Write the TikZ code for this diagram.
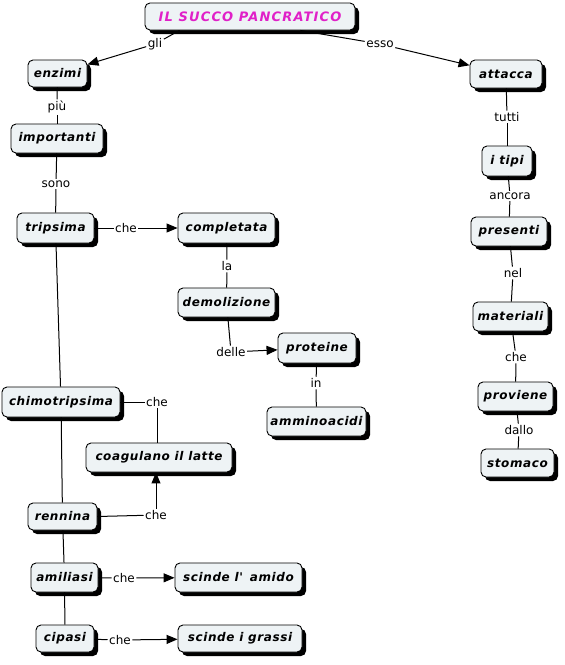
\documentclass[tikz,border=0pt]{standalone}
\usepackage{fontspec}
\setsansfont{DejaVu Sans}
\newfontfamily\nodefont[LetterSpace=5]{DejaVu Sans Bold Oblique}
\newfontfamily\titlefont[LetterSpace=9]{DejaVu Sans Bold Oblique}
\newfontfamily\lblfont{DejaVu Sans}
\usetikzlibrary{arrows.meta,shadows}
\definecolor{boxfill}{HTML}{EEF3F5}
\definecolor{titlemag}{HTML}{E020C8}
\tikzset{
  concept/.style={draw=black, line width=0.9pt, fill=boxfill, rounded corners=5pt,
    drop shadow={shadow xshift=4pt, shadow yshift=-4pt, fill=black, opacity=1},
    font=\nodefont\fontsize{12}{14}\selectfont, inner sep=0pt, align=center},
  lbl/.style={font=\lblfont\fontsize{12}{14}\selectfont, inner sep=1.5pt, text=black},
  conn/.style={line width=1pt, draw=black},
  arr/.style={conn, -{Triangle[length=11pt,width=9pt]}},
}
\begin{document}
\begin{tikzpicture}[x=1pt,y=-1pt]
\useasboundingbox (0,0) rectangle (565,665);
% nodes
\node[concept, minimum width=210pt, minimum height=27pt, text=titlemag, font=\titlefont\fontsize{13}{15}\selectfont] (title) at (250,16.5) {IL SUCCO PANCRATICO};
\node[concept, minimum width=59pt, minimum height=27pt] (enzimi) at (57.5,73.5) {enzimi};
\node[concept, minimum width=72pt, minimum height=28pt] (attacca) at (506,74) {attacca};
\node[concept, minimum width=92pt, minimum height=29pt] (importanti) at (57,138.5) {importanti};
\node[concept, minimum width=77pt, minimum height=30pt] (tripsima) at (55.5,228) {tripsima};
\node[concept, minimum width=97pt, minimum height=30pt] (completata) at (226.5,228) {completata};
\node[concept, minimum width=50pt, minimum height=30pt] (itipi) at (507,161) {i tipi};
\node[concept, minimum width=76pt, minimum height=29pt] (presenti) at (509,231.5) {presenti};
\node[concept, minimum width=97pt, minimum height=29pt] (demolizione) at (226.5,302.5) {demolizione};
\node[concept, minimum width=75pt, minimum height=29pt] (materiali) at (510.5,316.5) {materiali};
\node[concept, minimum width=78pt, minimum height=30pt] (proteine) at (317,348) {proteine};
\node[concept, minimum width=118pt, minimum height=30pt] (chimo) at (61,402) {chimotripsima};
\node[concept, minimum width=75pt, minimum height=29pt] (proviene) at (515.5,396.5) {proviene};
\node[concept, minimum width=99pt, minimum height=29pt] (ammino) at (316.5,421.5) {amminoacidi};
\node[concept, minimum width=73pt, minimum height=28pt] (stomaco) at (517.5,463) {stomaco};
\node[concept, minimum width=146pt, minimum height=29pt] (coag) at (159,457.5) {coagulano il latte};
\node[concept, minimum width=69pt, minimum height=27pt] (rennina) at (62.5,516.5) {rennina};
\node[concept, minimum width=67pt, minimum height=29pt] (amiliasi) at (64.5,577.5) {amiliasi};
\node[concept, minimum width=127pt, minimum height=29pt] (amido) at (238.5,577.5) {scinde l'\, amido};
\node[concept, minimum width=58pt, minimum height=27pt] (cipasi) at (65,638.5) {cipasi};
\node[concept, minimum width=124pt, minimum height=27pt] (grassi) at (240,638.5) {scinde i grassi};
% labels
\node[lbl] (l1) at (155,44) {gli};
\node[lbl] (l2) at (380,44) {esso};
\node[lbl] (l3) at (57,107) {più};
\node[lbl] (l4) at (56,184) {sono};
\node[lbl] (l5) at (126,228) {che};
\node[lbl] (l6) at (227,266) {la};
\node[lbl] (l7) at (231,352) {delle};
\node[lbl] (l8) at (316,383) {in};
\node[lbl] (l9) at (157,402) {che};
\node[lbl] (l10) at (156,515) {che};
\node[lbl] (l11) at (124,578) {che};
\node[lbl] (l12) at (120,640) {che};
\node[lbl] (l13) at (507,117) {tutti};
\node[lbl] (l14) at (510,196) {ancora};
\node[lbl] (l15) at (513,273) {nel};
\node[lbl] (l16) at (516,357) {che};
\node[lbl] (l17) at (519,430) {dallo};
% connectors
\draw[conn] ([xshift=35pt]title.south west) -- (l1);
\draw[arr] (l1) -- (enzimi);
\draw[conn] ([xshift=-55pt]title.south east) -- (l2);
\draw[arr] (l2) -- (attacca);
\draw[conn] (enzimi) -- (l3); \draw[conn] (l3) -- (importanti);
\draw[conn] (importanti) -- (l4); \draw[conn] (l4) -- (tripsima);
\draw[conn] (tripsima) -- (l5); \draw[arr] (l5) -- (completata);
\draw[conn] (completata) -- (l6); \draw[conn] (l6) -- (demolizione);
\draw[conn] (demolizione) -- (l7); \draw[arr] (l7) -- (proteine);
\draw[conn] (proteine) -- (l8); \draw[conn] (l8) -- (ammino);
\draw[conn] (tripsima) -- (chimo);
\draw[conn] (chimo) -- (rennina);
\draw[conn] (rennina) -- (amiliasi);
\draw[conn] (amiliasi) -- (cipasi);
\draw[conn] (chimo.east) -- (l9); \draw[conn] (l9) -- (l9 |- coag.north);
\draw[conn] (rennina.east) -- (l10); \draw[arr] (l10) -- (l10 |- coag.south);
\draw[conn] (amiliasi) -- (l11); \draw[arr] (l11) -- (amido);
\draw[conn] (cipasi) -- (l12); \draw[arr] (l12) -- (grassi);
\draw[conn] (attacca) -- (l13); \draw[conn] (l13) -- (itipi);
\draw[conn] (itipi) -- (l14); \draw[conn] (l14) -- (presenti);
\draw[conn] (presenti) -- (l15); \draw[conn] (l15) -- (materiali);
\draw[conn] (materiali) -- (l16); \draw[conn] (l16) -- (proviene);
\draw[conn] (proviene) -- (l17); \draw[conn] (l17) -- (stomaco);
\end{tikzpicture}
\end{document}
